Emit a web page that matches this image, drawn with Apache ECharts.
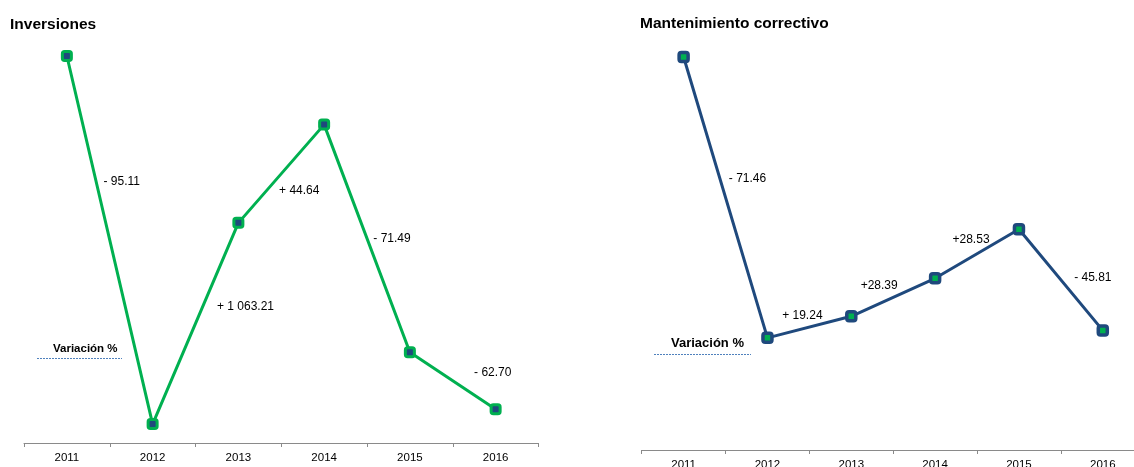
<!DOCTYPE html>
<html>
<head>
<meta charset="utf-8">
<script src="https://cdn.jsdelivr.net/npm/echarts@6/dist/echarts.min.js"></script>
<style>
  html, body { margin: 0; padding: 0; background: #fff; }
  #chart { width: 1134px; height: 467px; }
</style>
</head>
<body>
<div id="chart"></div>
<script>
// Years on the horizontal axis
const years = ['2011', '2012', '2013', '2014', '2015', '2016'];

// Series values (2011 = 100)
const inversiones = [100, 4.89, 56.88, 82.27, 23.46, 8.75];
const mantenimiento = [100, 28.54, 34.03, 43.69, 56.16, 30.43];

// Year-on-year variation (%) shown beside each segment
const varInversiones = ['- 95.11', '+ 1 063.21', '+ 44.64', '- 71.49', '- 62.70'];
const varMantenimiento = ['- 71.46', '+ 19.24', '+28.39', '+28.53', '- 45.81'];

const FONT = '"Liberation Sans", Arial, Helvetica, sans-serif';
const GREEN = '#00B050';
const NAVY = '#1F497D';

// Pixel offsets of each variation label from its segment's midpoint
const offsetsInv = [[12, -58], [50, -17], [18, 17], [25, 0], [40, -8]];
const offsetsMant = [[22, -19], [-7, -11], [-14, -12], [-6, -14], [32, -2]];

// Label anchors: midpoint of each segment (x on a 0..6 scale, y in data units)
function segmentMidpoints(values) {
  const out = [];
  for (let i = 0; i < values.length - 1; i++) {
    out.push([i + 1, (values[i] + values[i + 1]) / 2]);
  }
  return out;
}

function labelSeries(values, texts, offsets, axisIdx) {
  return {
    type: 'scatter',
    xAxisIndex: axisIdx.x,
    yAxisIndex: axisIdx.y,
    silent: true,
    symbolSize: 1,
    itemStyle: { color: '#ffffff', opacity: 0 },
    data: segmentMidpoints(values).map((p, i) => ({
      value: p,
      label: {
        show: true,
        position: 'inside',
        offset: offsets[i],
        formatter: texts[i],
        color: '#000',
        opacity: 1,
        textBorderWidth: 0,
        fontSize: 12,
        fontFamily: FONT
      }
    }))
  };
}

function catAxis(gridIndex) {
  return {
    type: 'category',
    gridIndex: gridIndex,
    data: years,
    boundaryGap: true,
    axisLine: { show: true, lineStyle: { color: '#8a8a8a', width: 1 } },
    axisTick: { show: true, length: 4, lineStyle: { color: '#8a8a8a' } },
    axisLabel: { color: '#000', fontSize: 11.5, fontFamily: FONT, margin: 9 },
    splitLine: { show: false }
  };
}

function hiddenValueX(gridIndex) {
  return { type: 'value', gridIndex: gridIndex, min: 0, max: 6, show: false };
}

function valueY(gridIndex) {
  return { type: 'value', gridIndex: gridIndex, min: 0, max: 100, show: false };
}

const chart = echarts.init(document.getElementById('chart'), null, { renderer: 'canvas' });

chart.setOption({
  backgroundColor: '#ffffff',
  animation: false,
  title: [
    { text: 'Inversiones', left: 10, top: 17, padding: 0,
      textStyle: { fontSize: 15.5, fontWeight: 'bold', color: '#000', fontFamily: FONT } },
    { text: 'Mantenimiento correctivo', left: 640, top: 16, padding: 0,
      textStyle: { fontSize: 15.5, fontWeight: 'bold', color: '#000', fontFamily: FONT } }
  ],
  grid: [
    { left: 24, width: 514.5, top: 56, height: 387, outerBoundsMode: 'none', containLabel: false },
    { left: 641.7, width: 503, top: 57, height: 393, outerBoundsMode: 'none', containLabel: false }
  ],
  xAxis: [catAxis(0), catAxis(1), hiddenValueX(0), hiddenValueX(1)],
  yAxis: [valueY(0), valueY(1)],
  graphic: [
    { type: 'text', left: 53, top: 343,
      style: { text: 'Variación %', fontSize: 11.5, fontWeight: 'bold', fill: '#000', fontFamily: FONT } },
    { type: 'line', shape: { x1: 37, y1: 358.5, x2: 122, y2: 358.5 },
      style: { stroke: '#4F81BD', lineWidth: 1, lineDash: [2, 1] } },
    { type: 'text', left: 671, top: 336.5,
      style: { text: 'Variación %', fontSize: 13, fontWeight: 'bold', fill: '#000', fontFamily: FONT } },
    { type: 'line', shape: { x1: 654, y1: 354.5, x2: 751, y2: 354.5 },
      style: { stroke: '#4F81BD', lineWidth: 1, lineDash: [2, 1] } }
  ],
  series: [
    {
      name: 'Inversiones',
      type: 'line',
      xAxisIndex: 0,
      yAxisIndex: 0,
      data: inversiones,
      clip: false,
      symbol: 'roundRect',
      symbolSize: 9,
      lineStyle: { color: GREEN, width: 3 },
      itemStyle: { color: NAVY, borderColor: GREEN, borderWidth: 3 }
    },
    {
      name: 'Mantenimiento correctivo',
      type: 'line',
      xAxisIndex: 1,
      yAxisIndex: 1,
      data: mantenimiento,
      clip: false,
      symbol: 'roundRect',
      symbolSize: 9,
      lineStyle: { color: NAVY, width: 3 },
      itemStyle: { color: GREEN, borderColor: NAVY, borderWidth: 3.5 }
    },
    labelSeries(inversiones, varInversiones, offsetsInv, { x: 2, y: 0 }),
    labelSeries(mantenimiento, varMantenimiento, offsetsMant, { x: 3, y: 1 })
  ]
});
</script>
</body>
</html>
